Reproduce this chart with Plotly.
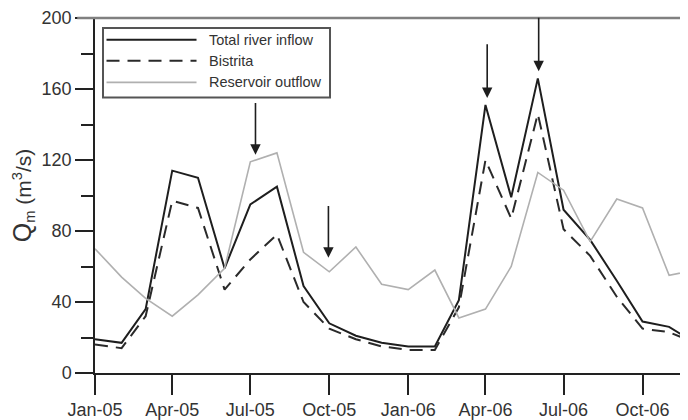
import pandas as pd
import plotly.graph_objects as go

# Monthly dates (first of each month), Jan-2005 .. Dec-2006
months = [d.strftime("%Y-%m-%d") for d in pd.date_range("2005-01-01", periods=24, freq="MS")]

total_inflow = [19, 17, 36, 114, 110, 59, 95, 105, 49, 28, 21, 17,
                15, 15, 41, 151, 99, 166, 92, 75, 52, 29, 26, 17]
bistrita = [16, 14, 32, 97, 93, 47, 64, 78, 40, 25, 19, 15,
            13, 13, 37, 120, 87, 146, 81, 66, 43, 25, 23, 17]
reservoir_outflow = [70, 54, 42, 32, 44, 59, 119, 124, 68, 57, 71, 50,
                     47, 58, 31, 36, 60, 113, 103, 74, 98, 93, 55, 58]

series_names = ["Total river inflow", "Bistrita", "Reservoir outflow"]

# Arrow annotations: (date of arrow, tip value, tail value)
arrow_dates = ["2005-07-07", "2005-09-30", "2006-04-03", "2006-06-02"]
arrow_tips = [123, 65, 155, 170]
arrow_tails = [153, 95, 186, 201]

font_family = "Liberation Sans, Arial, sans-serif"
text_color = "#333333"
styles = [dict(color="#1e1e1e", width=2),
          dict(color="#2a2a2a", width=2, dash="13px,8px"),
          dict(color="#b0b0b0", width=1.6)]

fig = go.Figure()
for name, vals, st in zip(series_names, [total_inflow, bistrita, reservoir_outflow], styles):
    fig.add_trace(go.Scatter(x=months, y=vals, name=name, mode="lines", line=st,
                             showlegend=False))

for d, tip, tail in zip(arrow_dates, arrow_tips, arrow_tails):
    fig.add_annotation(x=d, y=tip, ax=d, ay=tail, xref="x", yref="y", axref="x", ayref="y",
                       showarrow=True, arrowhead=2, arrowsize=1.3, arrowwidth=1.6,
                       arrowcolor="#1e1e1e", text="", standoff=0)

# top gray border
fig.add_shape(type="line", xref="paper", yref="paper", x0=-0.03, x1=1, y0=1, y1=1,
              line=dict(color="#808080", width=2.5))

# legend box (drawn in paper coordinates)
fig.add_shape(type="rect", xref="paper", yref="paper", x0=0.0135, x1=0.3963, y0=0.7759, y1=0.972,
              line=dict(color="#555555", width=2), fillcolor="white", layer="above")
legend_rows = [0.9384, 0.8796, 0.8188]
for name, st, yy in zip(series_names, styles, legend_rows):
    fig.add_shape(type="line", xref="paper", yref="paper", x0=0.0194, x1=0.1712, y0=yy, y1=yy,
                  line=st, layer="above")
    fig.add_annotation(x=0.1889, y=yy, xref="paper", yref="paper", text=name, showarrow=False,
                       xanchor="left", yanchor="middle",
                       font=dict(size=14.5, color=text_color, family=font_family))

fig.update_layout(
    width=680, height=412,
    margin=dict(l=87, r=0, t=9, b=46),
    paper_bgcolor="white", plot_bgcolor="white",
    font=dict(family=font_family, color=text_color),
    showlegend=False,
)

fig.update_xaxes(
    type="date",
    range=["2005-01-01", "2006-11-23"],
    tick0="2005-01-01", dtick="M3", tickformat="%b-%y",
    showline=True, linecolor="#222222", linewidth=1.5,
    ticks="outside", ticklen=20, tickwidth=1.5, tickcolor="#222222",
    showgrid=False, zeroline=False, ticklabeloverflow="allow",
    tickfont=dict(size=18, color=text_color),
)
fig.update_yaxes(
    range=[0, 200], tick0=0, dtick=40,
    showline=True, linecolor="#222222", linewidth=1.5,
    ticks="outside", ticklen=18, tickwidth=1.5, tickcolor="#222222",
    minor=dict(dtick=20, ticks="outside", ticklen=12, tickwidth=1.5, tickcolor="#222222"),
    showgrid=False, zeroline=False, ticklabeloverflow="allow",
    tickfont=dict(size=18, color=text_color),
    title=dict(text='<span style="font-size:25px">Q</span><sub>m</sub> (m<sup>3</sup>/s)',
               font=dict(size=21, color=text_color), standoff=6),
)

fig.write_html("out.html")
